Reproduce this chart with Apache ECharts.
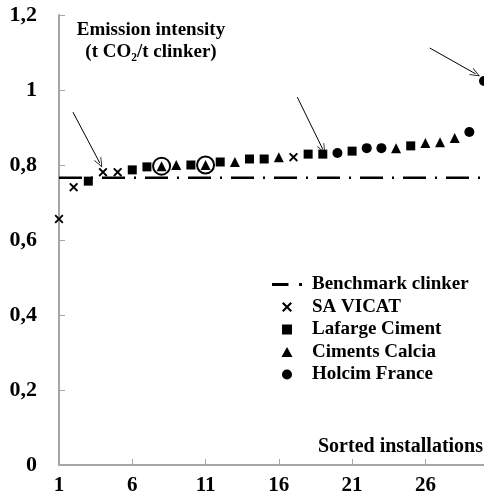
<!DOCTYPE html>
<html>
<head>
<meta charset="utf-8">
<script src="https://cdn.jsdelivr.net/npm/echarts@6/dist/echarts.min.js"></script>
<style>
  html, body { margin: 0; padding: 0; background: #fff; }
  #chart { width: 484px; height: 499px; }
</style>
</head>
<body>
<div id="chart"></div>
<script>
// sorted installations and their emission intensity (t CO2 / t clinker)
const installations = [1, 2, 3, 4, 5, 6, 7, 8, 9, 10, 11, 12, 13, 14, 15,
  16, 17, 18, 19, 20, 21, 22, 23, 24, 25, 26, 27, 28, 29, 30]
const intensity = [0.656, 0.741, 0.757, 0.781, 0.781, 0.787, 0.795, 0.797, 0.800, 0.800,
  0.800, 0.808, 0.808, 0.816, 0.816, 0.821, 0.821, 0.829, 0.829, 0.832,
  0.837, 0.845, 0.845, 0.845, 0.851, 0.859, 0.861, 0.872, 0.888, 1.024]
// V = SA VICAT, L = Lafarge, C = Ciments Calcia, H = Holcim
const company = ['V', 'V', 'L', 'V', 'V', 'L', 'L', 'C', 'C', 'L',
  'C', 'L', 'C', 'L', 'L', 'C', 'V', 'L', 'L', 'H',
  'L', 'H', 'H', 'C', 'L', 'C', 'C', 'C', 'H', 'H']
const benchmark = 0.766
const circled = [8, 11]
const xTicks = [1, 6, 11, 16, 21, 26]
// annotation arrows, [from, to] in data units
const arrows = [
  [[1.95, 0.941], [3.79, 0.805]],
  [[17.26, 0.981], [19.0, 0.842]],
  [[26.3, 1.112], [29.43, 1.043]]
]

const font = 'Liberation Serif'
const crossPath = 'path://M0,1.5L1.5,0L5,3.5L8.5,0L10,1.5L6.5,5L10,8.5L8.5,10L5,6.5L1.5,10L0,8.5L3.5,5Z'
const squarePath = 'path://M0,0h10v10h-10z'
const trianglePath = 'path://M5,0L10,9L0,9Z'
const arrowHead = 'path://M0,10L5,0L10,10L9,10L5,2L1,10Z'

function pointsOf(code) {
  return installations
    .map((x, i) => [x, intensity[i], company[i]])
    .filter(p => p[2] === code)
    .map(p => [p[0], p[1]])
}

const groups = [
  { code: 'V', name: 'SA VICAT', symbol: crossPath, size: 9 },
  { code: 'L', name: 'Lafarge Ciment', symbol: squarePath, size: 9 },
  { code: 'C', name: 'Ciments Calcia', symbol: trianglePath, size: 10 },
  { code: 'H', name: 'Holcim France', symbol: 'circle', size: 10 }
]

const chart = echarts.init(document.getElementById('chart'))

const option = {
  animation: false,
  grid: { left: 59, right: 0, top: 15, bottom: 34, containLabel: false },
  xAxis: {
    type: 'value',
    min: 1,
    max: 30,
    splitLine: { show: false },
    axisLine: { lineStyle: { color: '#a6a6a6', width: 2 } },
    axisTick: { show: true, inside: true, length: 6, customValues: xTicks.slice(1), lineStyle: { color: '#a6a6a6', width: 1 } },
    axisLabel: {
      customValues: xTicks,
      margin: 10,
      fontFamily: font,
      fontWeight: 'bold',
      fontSize: 21,
      color: '#000'
    }
  },
  yAxis: {
    type: 'value',
    min: 0,
    max: 1.2,
    interval: 0.2,
    splitLine: { show: false },
    axisLine: { show: true, lineStyle: { color: '#a6a6a6', width: 2 } },
    axisTick: { show: true, inside: true, length: 6, lineStyle: { color: '#a6a6a6', width: 1 } },
    axisLabel: {
      margin: 22,
      fontFamily: font,
      fontWeight: 'bold',
      fontSize: 22,
      color: '#000',
      formatter: v => String(+v.toFixed(1)).replace('.', ',')
    }
  },
  legend: {
    orient: 'vertical',
    left: 267,
    top: 270,
    itemWidth: 30,
    itemHeight: 10,
    itemGap: 3.5,
    textStyle: {
      fontFamily: font,
      fontWeight: 'bold',
      fontSize: 19,
      lineHeight: 19,
      color: '#000',
      padding: [0, 0, 0, 5]
    },
    data: [
      { name: 'Benchmark clinker', icon: 'path://M0,4h17v3h-17zM28,4h3v3h-3z' },
      { name: 'SA VICAT' },
      { name: 'Lafarge Ciment' },
      { name: 'Ciments Calcia' },
      { name: 'Holcim France' }
    ]
  },
  graphic: [
    {
      type: 'text',
      x: 151, y: 41,
      style: {
        text: 'Emission intensity\n(t CO\u2082/t clinker)',
        font: 'bold 19px "Liberation Serif"',
        lineHeight: 22,
        fill: '#000',
        align: 'center',
        verticalAlign: 'middle'
      }
    },
    {
      type: 'text',
      x: 483, y: 447,
      style: {
        text: 'Sorted installations',
        font: 'bold 20px "Liberation Serif"',
        fill: '#000',
        align: 'right',
        verticalAlign: 'middle'
      }
    }
  ],
  series: [
    {
      name: 'Benchmark clinker',
      type: 'line',
      symbol: 'none',
      data: [[installations[0], benchmark], [installations[installations.length - 1], benchmark]],
      lineStyle: { color: '#000', width: 2.5, type: [23, 9, 2, 9] },
      itemStyle: { color: '#000' },
      z: 1
    },
    ...groups.map(g => ({
      name: g.name,
      type: 'scatter',
      symbol: g.symbol,
      symbolSize: g.size,
      itemStyle: { color: '#000', opacity: 1 },
      data: pointsOf(g.code),
      z: 3
    })),
    {
      name: 'circled',
      type: 'scatter',
      symbol: 'emptyCircle',
      symbolSize: 17,
      itemStyle: { color: '#000', borderColor: '#000', borderWidth: 1, opacity: 1 },
      data: circled.map(x => [x, intensity[x - 1]]),
      markLine: {
        silent: true,
        symbol: ['none', arrowHead],
        symbolSize: [8, 10],
        label: { show: false },
        lineStyle: { color: '#000', width: 1, type: 'solid' },
        data: arrows.map(a => [{ coord: a[0] }, { coord: a[1] }])
      },
      z: 2
    }
  ]
}

chart.setOption(option)
window.addEventListener('resize', () => chart.resize())
</script>
</body>
</html>
